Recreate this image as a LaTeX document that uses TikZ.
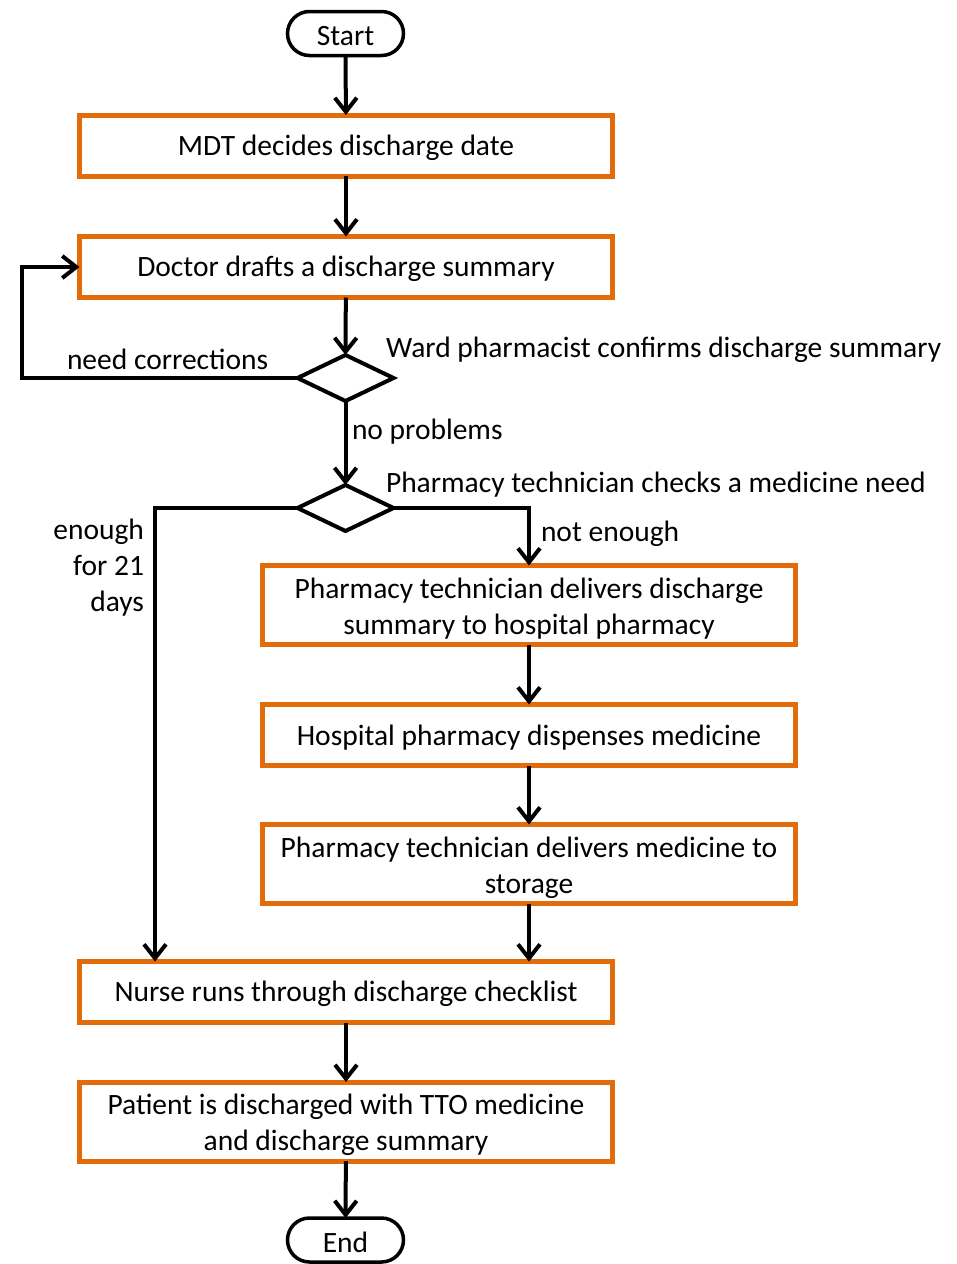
\documentclass[tikz,border=0pt]{standalone}
\usepackage{fontspec}
\setmainfont{Carlito}
\usetikzlibrary{arrows.meta,shapes.geometric}
\definecolor{boxorange}{HTML}{E36C0A}
\begin{document}
\begin{tikzpicture}[x=1pt,y=-1pt,
  font=\fontsize{29.5}{36}\selectfont,
  every node/.style={inner sep=0pt,outer sep=0pt},
  lift/.style={execute at begin node={\rule{0pt}{25pt}}},
  framed/.style={draw=boxorange,line width=5pt,minimum width=533pt,align=center},
  stepbox/.style={framed,minimum height=61pt,lift},
  tallbox/.style={framed,minimum height=79pt,text height=58pt,text depth=0pt},
  terminal/.style={draw,line width=3.5pt,minimum width=116pt,minimum height=44pt,rounded corners=22pt,lift},
  choice/.style={draw,diamond,line width=4pt,minimum width=96pt,minimum height=46pt},
  flow/.style={line width=4pt,-{Straight Barb[length=14pt,width=22pt,line width=4pt]}},
  lbl/.style={anchor=west}]
\useasboundingbox (0,0) rectangle (957,1264);

% main column
\node[terminal] (start) at (345.5,33.5) {Start};
\node[stepbox] (b1) at (346,145.5) {MDT decides discharge date};
\node[stepbox] (b2) at (346,267) {Doctor drafts a discharge summary};
\node[choice] (d1) at (345.5,378) {};
\node[choice] (d2) at (345.5,508) {};

% pharmacy column
\node[tallbox] (b3) at (529,605) {Pharmacy technician delivers discharge\\summary to hospital pharmacy};
\node[stepbox] (b4) at (529,735) {Hospital pharmacy dispenses medicine};
\node[tallbox] (b5) at (529,864) {Pharmacy technician delivers medicine to\\storage};

% final steps
\node[stepbox] (b6) at (346,992) {Nurse runs through discharge checklist};
\node[tallbox] (b7) at (346,1121.5) {Patient is discharged with TTO medicine\\and discharge summary};
\node[terminal] (end) at (345.5,1240) {End};

% labels
\node[lbl] (l1) at (386,349.5) {Ward pharmacist confirms discharge summary};
\node[lbl] (l2) at (386,484.5) {Pharmacy technician checks a medicine need};
\node[lbl] (l3) at (352,431.5) {no problems};
\node[lbl] (l4) at (541,533.5) {not enough};
\node[lbl] (l5) at (67,359) {need corrections};
\node[anchor=east,align=right] (l6) at (144,567.5) {enough\\for 21\\days};

% connectors
\coordinate (loop) at (22,378);
\coordinate (left) at (155,508);
\draw[flow] (start) -- (b1);
\draw[flow] (b1) -- (b2);
\draw[flow] (b2) -- (d1.north);
\draw[flow] (d1.west) -- (loop) |- (b2.west);
\draw[flow] (d1.south) -- (d2.north);
\draw[flow] (d2.west) -- (left) -- (left |- b6.north);
\draw[flow] (d2.east) -| (b3.north);
\draw[flow] (b3) -- (b4);
\draw[flow] (b4) -- (b5);
\draw[flow] (b5.south) -- (b5.south |- b6.north);
\draw[flow] (b6) -- (b7);
\draw[flow] (b7) -- (end);
\end{tikzpicture}
\end{document}
